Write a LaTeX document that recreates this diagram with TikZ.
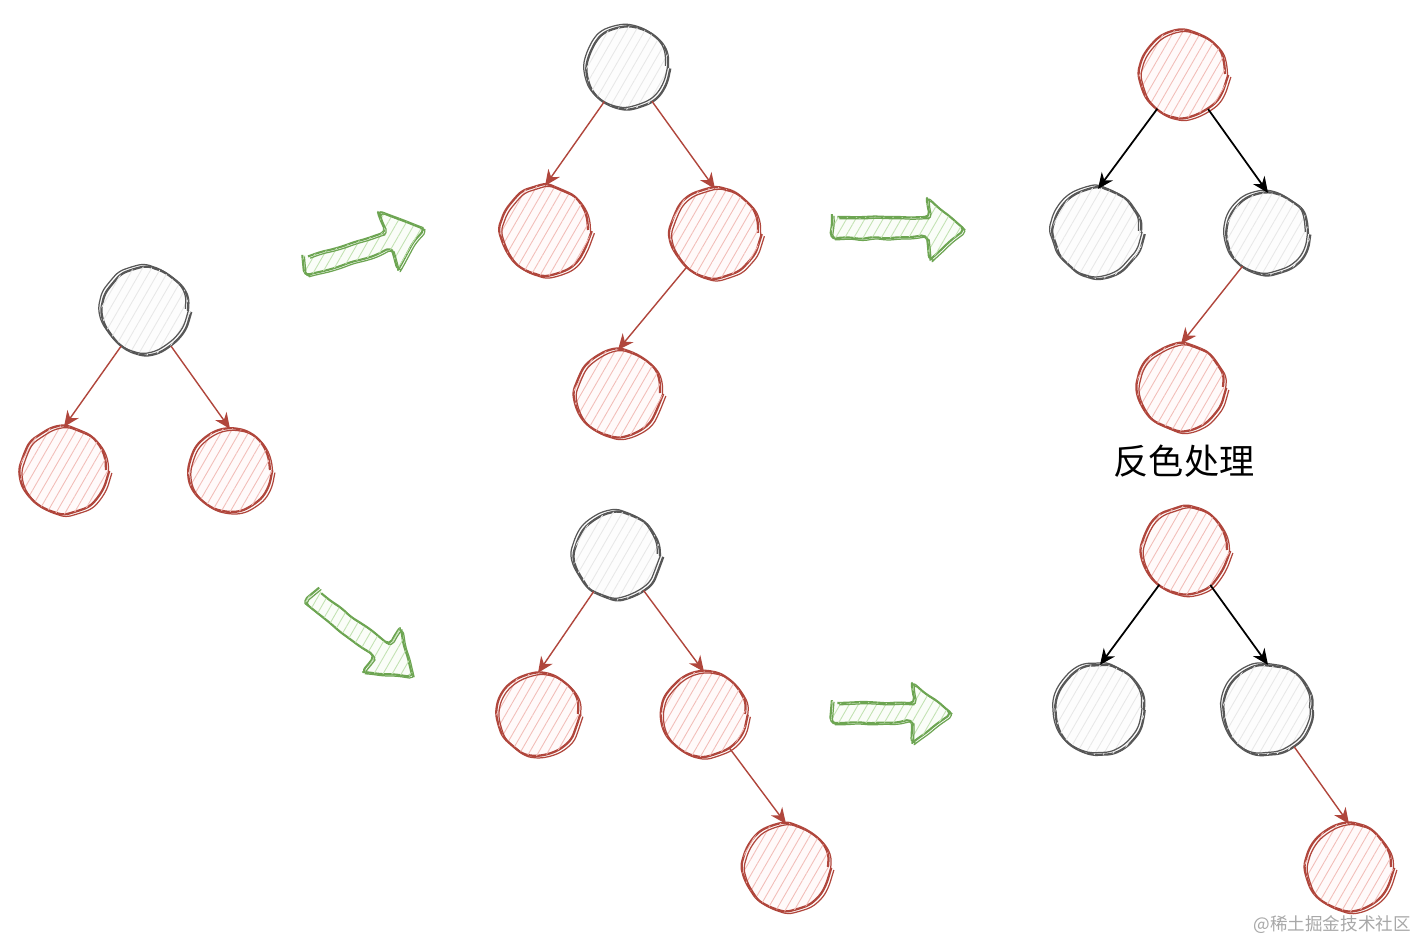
\documentclass[tikz,border=0pt]{standalone}
\usepackage{fontspec}
\newfontfamily\cjk{Noto Sans CJK SC}
\usetikzlibrary{arrows.meta,patterns.meta,decorations.pathmorphing}
\definecolor{redline}{HTML}{B0463C}
\definecolor{redfill}{HTML}{FFFAFA}
\definecolor{redhatch}{HTML}{F2BDB8}
\definecolor{grayline}{HTML}{575757}
\definecolor{grayfill}{HTML}{FDFDFD}
\definecolor{grayhatch}{HTML}{E8E8E8}
\definecolor{greenline}{HTML}{6DA552}
\definecolor{greenfill}{HTML}{FAFDF8}
\definecolor{greenhatch}{HTML}{C2E2B2}
\definecolor{wmgray}{HTML}{A8A8A8}
\tikzset{
  sketch/.style={decorate,decoration={random steps,segment length=7pt,amplitude=0.7pt},rounded corners=3pt},
  place/.style={circle,minimum size=1.68cm,inner sep=0pt,line width=1.3pt,sketch},
  redplace/.style={place,draw=redline,fill=redfill,
    postaction={pattern={Lines[angle=60,distance=4.5pt,line width=0.5pt]},pattern color=redhatch},
    postaction={draw=redline,line width=0.7pt,transform canvas={shift={(1.5pt,-1.2pt)}}}},
  grayplace/.style={place,draw=grayline,fill=grayfill,
    postaction={pattern={Lines[angle=60,distance=4.5pt,line width=0.5pt]},pattern color=grayhatch},
    postaction={draw=grayline,line width=0.7pt,transform canvas={shift={(-1.5pt,1.2pt)}}}},
  redarc/.style={draw=redline,line width=0.8pt,-{Stealth[length=9pt,width=8pt]}},
  blackarc/.style={draw=black,line width=1pt,-{Stealth[length=9pt,width=8pt]}},
  fatarrow/.style={draw=greenline,line width=1.2pt,line join=round,fill=greenfill,sketch,
    postaction={pattern={Lines[angle=60,distance=4.5pt,line width=0.5pt]},pattern color=greenhatch},
    postaction={draw=greenline,line width=0.7pt,transform canvas={shift={(1.2pt,-1pt)}}}}
}
\begin{document}
\begin{tikzpicture}[x=0.02cm,y=-0.02cm]
  \useasboundingbox[fill=white] (0,0) rectangle (1422,942);

  % starting tree
  \node[grayplace] (a0) at (146,311) {};
  \node[redplace] (a1) at (64,470) {};
  \node[redplace,minimum size=1.6cm] (a2) at (230,470) {};
  \draw[redarc] (a0) -- (a1.north);
  \draw[redarc] (a0) -- (a2.north);

  % insert left of the right child
  \node[grayplace,minimum size=1.6cm] (b0) at (628,68) {};
  \node[redplace,minimum size=1.72cm] (b1) at (545,230) {};
  \node[redplace,minimum size=1.72cm] (b2) at (715,233) {};
  \node[redplace] (b3) at (618,393) {};
  \draw[redarc] (b0) -- (b1.north);
  \draw[redarc] (b0) -- (b2.north);
  \draw[redarc] (b2) -- (b3.north);

  \node[redplace] (c0) at (1183,74) {};
  \node[grayplace,minimum size=1.72cm] (c1) at (1098,233) {};
  \node[grayplace,minimum size=1.6cm] (c2) at (1268,234) {};
  \node[redplace] (c3) at (1181,387) {};
  \draw[blackarc] (c0) -- (c1.north);
  \draw[blackarc] (c0) -- (c2.north);
  \draw[redarc] (c2) -- (c3.north);
  \node[font=\cjk\fontsize{20}{24}\selectfont] (cap) at (1184,461) {反色处理};

  % insert right of the right child
  \node[grayplace] (d0) at (618,556) {};
  \node[redplace,minimum size=1.6cm] (d1) at (538,714) {};
  \node[redplace,minimum size=1.64cm] (d2) at (704,714) {};
  \node[redplace] (d3) at (786,867) {};
  \draw[redarc] (d0) -- (d1.north);
  \draw[redarc] (d0) -- (d2.north);
  \draw[redarc] (d2) -- (d3.north);

  \node[redplace] (e0) at (1185,550) {};
  \node[grayplace,minimum size=1.76cm] (e1) at (1100,710) {};
  \node[grayplace,minimum size=1.76cm] (e2) at (1268,710) {};
  \node[redplace] (e3) at (1349,867) {};
  \draw[blackarc] (e0) -- (e1.north);
  \draw[blackarc] (e0) -- (e2.north);
  \draw[redarc] (e2) -- (e3.north);

  % green block arrows
  \draw[fatarrow] (303,258) -- (383,233) -- (378,212) -- (423,228) -- (398,270) -- (392,250) -- (307,275) -- cycle;
  \draw[fatarrow] (317,590) -- (387,643) -- (400,628) -- (412,675) -- (363,672) -- (373,658) -- (305,603) -- cycle;
  \draw[fatarrow] (832,217) -- (927,217) -- (927,198) -- (963,228) -- (930,260) -- (927,238) -- (833,238) -- cycle;
  \draw[fatarrow] (832,703) -- (912,703) -- (912,683) -- (950,712) -- (912,743) -- (912,722) -- (833,723) -- cycle;

  \node[font=\cjk\fontsize{10}{12}\selectfont,text=wmgray,anchor=east] (wm) at (1417,925) {@稀土掘金技术社区};
\end{tikzpicture}
\end{document}
